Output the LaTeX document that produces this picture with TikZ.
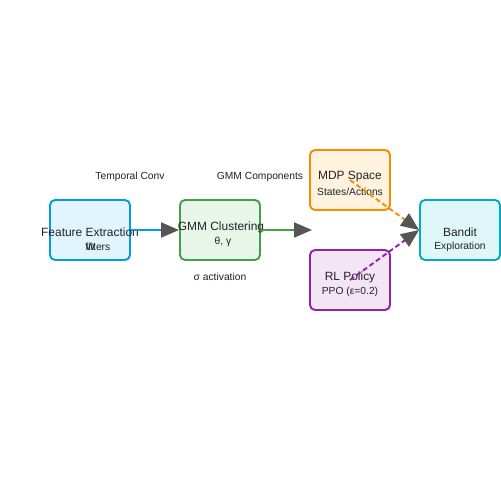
\documentclass[tikz,border=0pt]{standalone}
\usepackage{fontspec}
\setmainfont{Liberation Sans}
\usetikzlibrary{arrows.meta}
\definecolor{cblue}{HTML}{039BE5}\definecolor{fblue}{HTML}{E1F5FE}
\definecolor{cgreen}{HTML}{43A047}\definecolor{fgreen}{HTML}{E8F5E9}
\definecolor{corange}{HTML}{FB8C00}\definecolor{forange}{HTML}{FFF3E0}
\definecolor{cpurple}{HTML}{8E24AA}\definecolor{fpurple}{HTML}{F3E5F5}
\definecolor{ccyan}{HTML}{00ACC1}\definecolor{fcyan}{HTML}{E0F7FA}
\definecolor{headgray}{HTML}{555555}
\definecolor{txt}{HTML}{222222}
\begin{document}
\begin{tikzpicture}[x=0.02cm,y=-0.02cm,
  box/.style={draw, line width=1.1pt, rounded corners=0.1cm, minimum width=1.6cm, minimum height=1.2cm, inner sep=0pt},
  title/.style={font=\fontsize{6.8pt}{8pt}\selectfont, text=txt, inner sep=0pt},
  sub/.style={font=\fontsize{5.85pt}{7pt}\selectfont, text=txt, inner sep=0pt},
  conn/.style={line width=1.1pt, -{Triangle[length=0.36cm,width=0.3cm,fill=headgray,color=headgray]}},
  dconn/.style={conn, dash pattern=on 0.1cm off 0.06cm}]
\useasboundingbox[fill=white] (0,0) rectangle (500,500);
\node[box, draw=cblue, fill=fblue] (fe) at (90,230) {};
\node[box, draw=cgreen, fill=fgreen] (gmm) at (220,230) {};
\node[box, draw=corange, fill=forange] (mdp) at (350,180) {};
\node[box, draw=cpurple, fill=fpurple] (rl) at (350,280) {};
\node[box, draw=ccyan, fill=fcyan] (bandit) at (460,230) {};
\node[title] (fet) at (90,232) {Feature Extraction};
\node[title] (gmmt) at (221,227) {GMM Clustering};
\node[title] (mdpt) at (350,177) {MDP Space};
\node[title] (rlt) at (350,277) {RL Policy};
\node[title] (bt) at (460,232) {Bandit};
\node[sub] (fes) at (98,247) {\makebox[0pt][l]{W}filters};
\node[sub] (gmms) at (223,242) {θ, γ};
\node[sub] (mdps) at (350,192) {States/Actions};
\node[sub] (rls) at (350,292) {PPO (ε=0.2)};
\node[sub] (bs) at (460,247) {Exploration};
\node[sub] (l1) at (130,177) {Temporal Conv};
\node[sub] (l2) at (260,177) {GMM Components};
\node[sub] (l3) at (220,277) {σ activation};
\coordinate (gap) at (312,230);
\draw[conn, cblue] (fe.east) -- (gmm.west);
\draw[conn, cgreen] (gmm.east) -- (gap);
\draw[dconn, corange] (mdp.center) -- (bandit.west);
\draw[dconn, cpurple] (rl.center) -- (bandit.west);
\end{tikzpicture}
\end{document}
